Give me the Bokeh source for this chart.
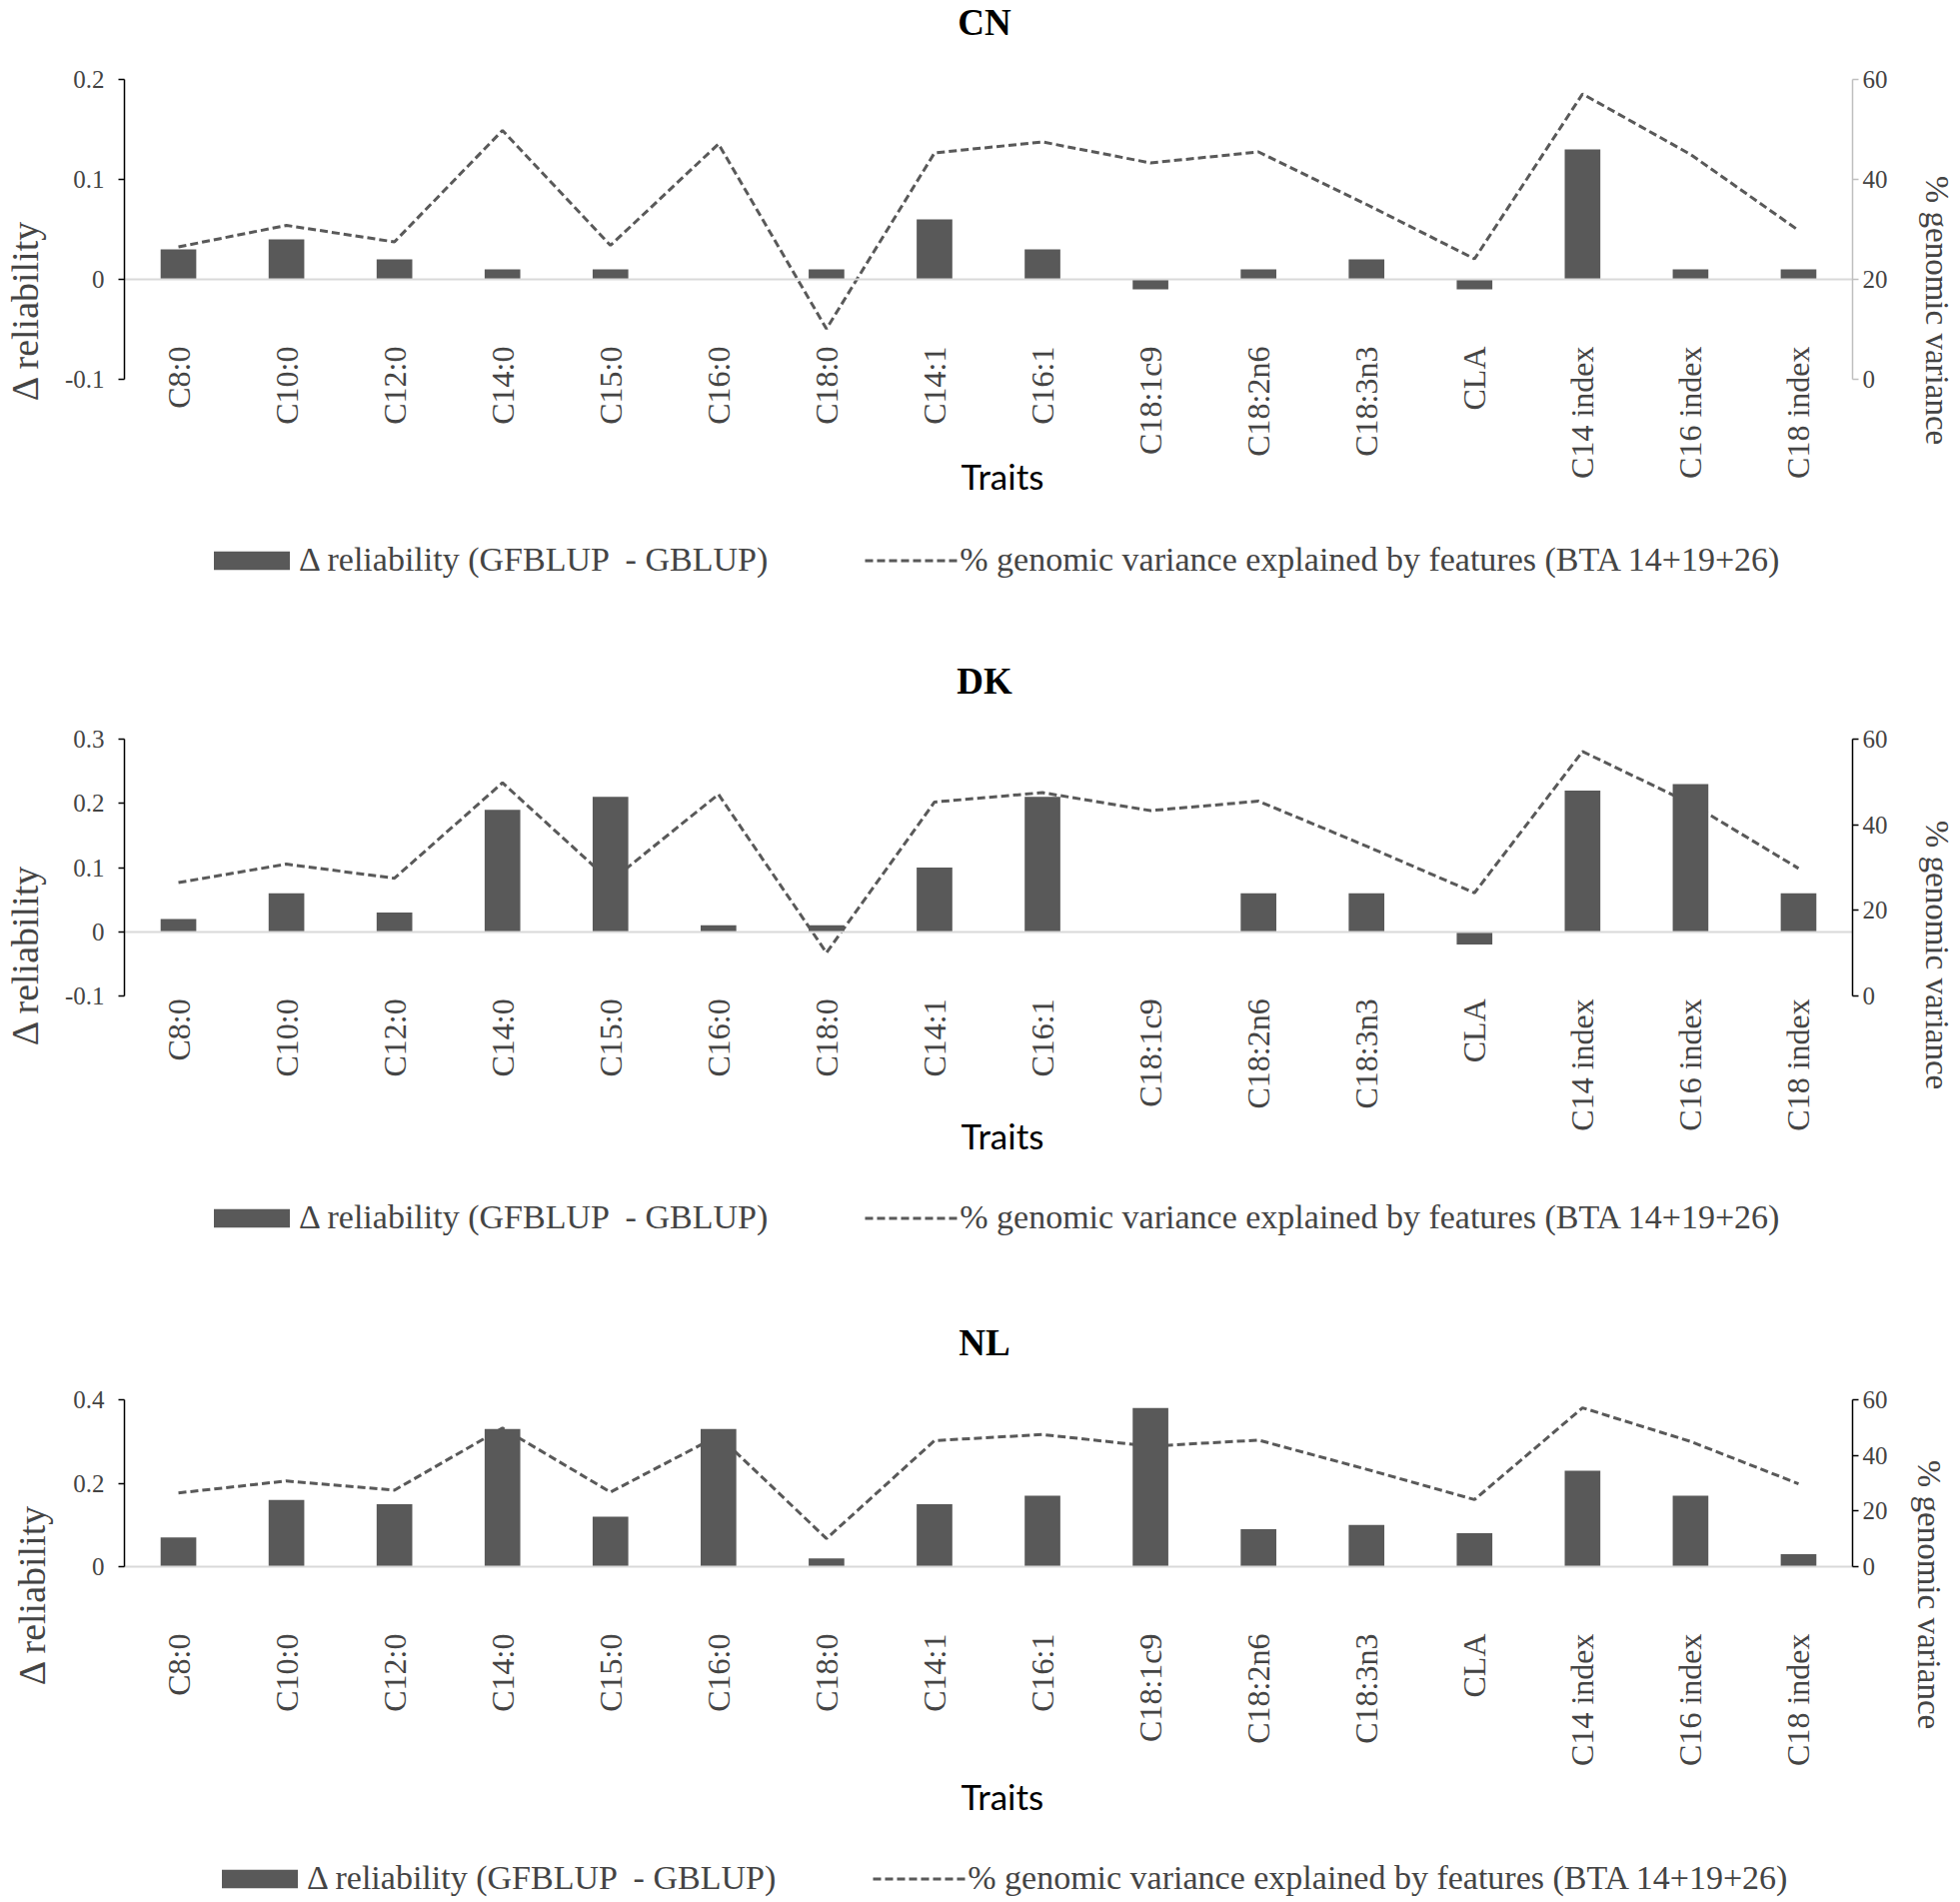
from bokeh.plotting import figure
from bokeh.models import (Range1d, FactorRange, LinearAxis, CategoricalAxis, FixedTicker,
                          Legend, LegendItem, Label, NumeralTickFormatter, ColumnDataSource)
from bokeh.layouts import column
from bokeh.embed import file_html
from bokeh.resources import INLINE
import math

# ---------------- data ----------------
traits = ["C8:0", "C10:0", "C12:0", "C14:0", "C15:0", "C16:0", "C18:0", "C14:1",
          "C16:1", "C18:1c9", "C18:2n6", "C18:3n3", "CLA", "C14 index", "C16 index", "C18 index"]

pct_genomic_variance = [26.5, 30.8, 27.5, 49.8, 26.8, 47.1, 10.1, 45.3,
                        47.5, 43.3, 45.5, 35.0, 24.1, 57.1, 45.0, 29.8]

delta_cn = [0.03, 0.04, 0.02, 0.01, 0.01, 0.0, 0.01, 0.06,
            0.03, -0.01, 0.01, 0.02, -0.01, 0.13, 0.01, 0.01]
delta_dk = [0.02, 0.06, 0.03, 0.19, 0.21, 0.01, 0.01, 0.10,
            0.21, 0.0, 0.06, 0.06, -0.02, 0.22, 0.23, 0.06]
delta_nl = [0.07, 0.16, 0.15, 0.33, 0.12, 0.33, 0.02, 0.15,
            0.17, 0.38, 0.09, 0.10, 0.08, 0.23, 0.17, 0.03]

left_ticks_cn = [-0.1, 0, 0.1, 0.2]
left_labels_cn = ["-0.1", "0", "0.1", "0.2"]
left_ticks_dk = [-0.1, 0, 0.1, 0.2, 0.3]
left_labels_dk = ["-0.1", "0", "0.1", "0.2", "0.3"]
left_ticks_nl = [0, 0.2, 0.4]
left_labels_nl = ["0", "0.2", "0.4"]
right_ticks = [0, 20, 40, 60]
right_labels = ["0", "20", "40", "60"]

bar_label = "Δ reliability (GFBLUP  - GBLUP)"
line_label = "% genomic variance explained by features (BTA 14+19+26)"
left_title = "Δ reliability"
right_title = "% genomic variance"
x_title = "Traits"

# ---------------- style ----------------
SERIF = "Liberation Serif"
SANS = "Lato"
DARK = "#595959"
LIGHT = "#d9d9d9"
FIG_W = 1958


def panel(name, deltas, ylim, lticks, llabels, g):
    h = g["h"]
    # vertical mapping: plot area occupies rows plot_top .. plot_top+plot_h of the figure
    upp = (ylim[1] - ylim[0]) / g["plot_h"]
    y_hi = ylim[1] + g["plot_top"] * upp
    y_lo = ylim[0] - (h - g["plot_top"] - g["plot_h"]) * upp
    rupp = 60.0 / g["plot_h"]
    r_hi = 60 + g["plot_top"] * rupp
    r_lo = 0 - (h - g["plot_top"] - g["plot_h"]) * rupp

    def y_at(row):
        return y_hi - row * upp

    p = figure(width=FIG_W, height=h,
               x_range=FactorRange(*traits), y_range=Range1d(y_lo, y_hi),
               x_axis_location=None, y_axis_location=None,
               output_backend="svg", toolbar_location=None,
               min_border_top=0, min_border_bottom=0,
               min_border_left=g["mbl"], min_border_right=g["mbr"])
    p.extra_y_ranges = {"pct": Range1d(r_lo, r_hi)}
    p.outline_line_color = None
    p.xgrid.grid_line_color = None
    p.ygrid.grid_line_color = None
    p.background_fill_color = "white"
    p.border_fill_color = "white"

    src = ColumnDataSource(dict(x=traits, d=deltas, pct=pct_genomic_variance))
    r_line = p.line(x="x", y="pct", source=src, y_range_name="pct",
                    line_color=DARK, line_width=3, line_dash="8 4")
    r_bar = p.vbar(x="x", top="d", width=0.33, source=src,
                   fill_color=DARK, line_color=None)

    # left axis
    la = LinearAxis(ticker=FixedTicker(ticks=lticks), bounds=ylim,
                    formatter=NumeralTickFormatter(format="0.[0]"),
                    major_label_overrides=dict(zip(lticks, llabels)),
                    axis_label=left_title, axis_label_text_font=SERIF,
                    axis_label_text_font_style="normal", axis_label_text_font_size="38px",
                    axis_label_standoff=g["l_standoff"],
                    major_label_text_font=SERIF, major_label_text_font_size="25px",
                    major_label_standoff=14,
                    major_tick_out=6, major_tick_in=0, minor_tick_out=0, minor_tick_in=0,
                    axis_line_color="black", axis_line_width=1.5,
                    major_tick_line_color="black", major_tick_line_width=1.5)
    p.add_layout(la, "left")

    # right axis
    rcol = g["right_color"]
    ra = LinearAxis(y_range_name="pct", ticker=FixedTicker(ticks=right_ticks), bounds=(0, 60),
                    major_label_overrides=dict(zip(right_ticks, right_labels)),
                    axis_label=right_title, axis_label_text_font=SERIF,
                    axis_label_text_font_style="normal", axis_label_text_font_size="33px",
                    axis_label_standoff=g["r_standoff"],
                    major_label_text_font=SERIF, major_label_text_font_size="25px",
                    major_label_standoff=4,
                    major_tick_out=6, major_tick_in=0, minor_tick_out=0, minor_tick_in=0,
                    axis_line_color=rcol, axis_line_width=1.5,
                    major_tick_line_color=rcol, major_tick_line_width=1.5)
    p.add_layout(ra, "right")

    # category axis sitting on zero
    ca = CategoricalAxis(fixed_location=0,
                         major_label_orientation=math.pi / 2,
                         major_label_standoff=67,
                         major_label_text_font=SERIF, major_label_text_font_size="32px",
                         major_tick_out=0, major_tick_in=0,
                         axis_line_color=LIGHT, axis_line_width=2)
    p.add_layout(ca, "below")

    cat_w = (FIG_W - g["mbl"] - g["mbr"]) / len(traits)
    mid = len(traits) / 2

    p.add_layout(Label(x=mid - 4 / cat_w, y=y_at(g["title_y"]), text=name,
                       text_font=SERIF, text_font_style="bold", text_font_size="37px",
                       text_align="center", text_baseline="middle", text_color="black"))
    p.add_layout(Label(x=mid + 14 / cat_w, y=y_at(g["traits_y"]),
                       text=x_title, text_font=SANS, text_font_size="35px",
                       text_align="center", text_baseline="middle", text_color="black"))

    LEG_H = 38
    leg = Legend(items=[LegendItem(label=bar_label, renderers=[r_bar]),
                        LegendItem(label=line_label, renderers=[r_line])],
                 orientation="horizontal",
                 location=(g["leg_x"], h - g["legend_y"] - LEG_H / 2),
                 padding=0, margin=0, spacing=97, glyph_width=95, glyph_height=23,
                 label_standoff=0, label_text_font=SERIF, label_text_font_size="34px",
                 border_line_color=None, background_fill_alpha=0)
    p.add_layout(leg, "center")
    return p


g_cn = dict(h=620, plot_top=79, plot_h=300, title_y=22, traits_y=475, legend_y=560,
            mbl=121, mbr=104, l_standoff=16, right_color="#bfbfbf", r_standoff=28, leg_x=80)
g_dk = dict(h=670, plot_top=119, plot_h=257, title_y=61, traits_y=515, legend_y=598,
            mbl=121, mbr=104, l_standoff=16, right_color="black", r_standoff=28, leg_x=80)
g_nl = dict(h=610, plot_top=110, plot_h=167, title_y=53, traits_y=506, legend_y=589,
            mbl=113, mbr=95, l_standoff=17, right_color="black", r_standoff=20, leg_x=88)

p1 = panel("CN", delta_cn, (-0.1, 0.2), left_ticks_cn, left_labels_cn, g_cn)
p2 = panel("DK", delta_dk, (-0.1, 0.3), left_ticks_dk, left_labels_dk, g_dk)
p3 = panel("NL", delta_nl, (0, 0.4), left_ticks_nl, left_labels_nl, g_nl)

layout = column(p1, p2, p3, spacing=0)
open("out.html", "w").write(file_html(layout, INLINE))
